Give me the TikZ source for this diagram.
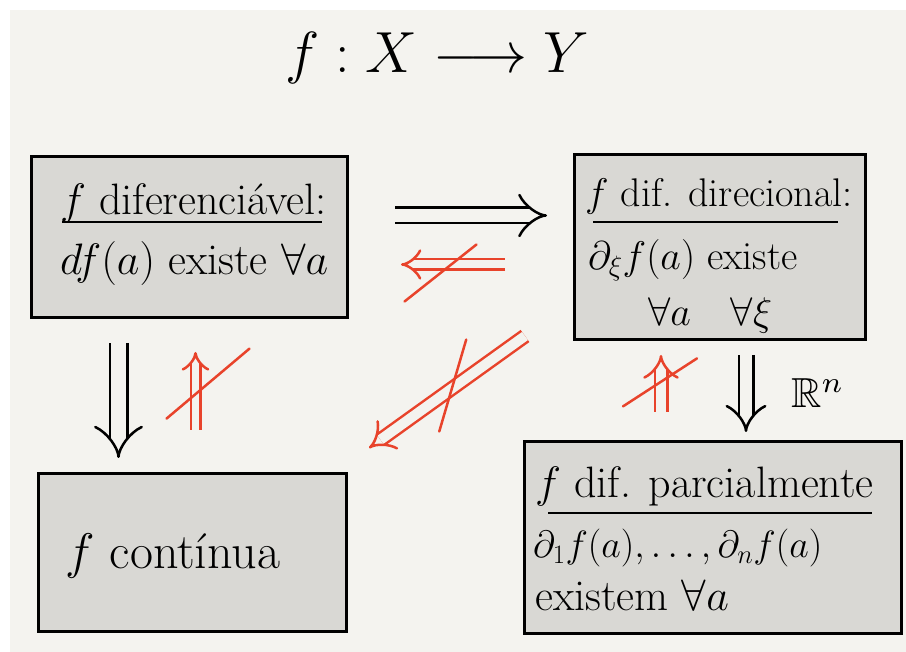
\RequirePackage{fix-cm}
\documentclass[tikz,border=0pt]{standalone}
\usepackage{amssymb}
\usepackage{graphicx}
\usetikzlibrary{arrows.meta,calc}
\definecolor{paper}{HTML}{F4F3EF}
\definecolor{boxgray}{HTML}{D9D8D4}
\definecolor{penred}{HTML}{E8432B}
\tikzset{
  box/.style={draw=black, line width=3pt, fill=boxgray, anchor=north west, inner sep=0pt},
  hand/.style={font=\fontsize{44}{50}\selectfont, inner sep=0pt, anchor=base west},
  implies/.style={double=paper, double distance=13pt, line width=2.5pt, -{Implies}},
  notimplies/.style={double=paper, line width=2.5pt, draw=penred, -{Implies[scale=1.7]}},
  slash/.style={draw=penred, line width=2.5pt, line cap=round},
}
\begin{document}
\begin{tikzpicture}[x=1pt, y=-1pt]
  % paper
  \fill[white] (0,0) rectangle (906,652);
  \fill[paper] (10,10) rectangle (906,652);
  \node[hand, font=\fontsize{58}{64}\selectfont, anchor=center] (title) at (437,58) {$f : X \longrightarrow Y$};
  % the four boxes
  \node[box, minimum width=316pt, minimum height=161pt] (difer) at (30,155) {};
  \node[box, minimum width=291pt, minimum height=185pt] (direc) at (573,153) {};
  \node[box, minimum width=308pt, minimum height=158pt] (contin) at (37,472) {};
  \node[box, minimum width=377pt, minimum height=192pt] (parcial) at (523,440) {};
  % box texts
  \node[hand] (difer-h) at (60,215) {$f$ diferenciável:};
  \draw[line width=2pt] (62,222) -- (322,222);
  \node[hand] (difer-t) at (60,275) {$df(a)$ existe $\forall a$};
  \node[hand, font=\fontsize{40}{46}\selectfont] (direc-h) at (585,207) {$f$ dif. direcional:};
  \draw[line width=2pt] (593,222) -- (838,222);
  \node[hand, font=\fontsize{40}{46}\selectfont] (direc-t) at (588,270) {$\partial_\xi f(a)$ existe};
  \node[hand, font=\fontsize{40}{46}\selectfont] (direc-u) at (648,326) {$\forall a\quad \forall \xi$};
  \node[hand, font=\fontsize{50}{56}\selectfont] (contin-t) at (65,568) {$f$ contínua};
  \node[hand] (parcial-h) at (535,498) {$f$ dif. parcialmente};
  \draw[line width=2pt] (548,513) -- (872,513);
  \node[hand, font=\fontsize{38}{44}\selectfont] (parcial-t) at (533,558) {$\partial_1 f(a), \dots, \partial_n f(a)$};
  \node[hand] (parcial-u) at (535,610) {existem $\forall a$};
  % implications
  \draw[implies] ($(difer.east)+(46,-21.5)$) -- ($(direc.west)+(-26,-31.5)$);
  \draw[implies, double distance=15pt] ($(difer.south)+(-71,24)$) -- ($(contin.north)+(-74,-14)$);
  \draw[implies, double distance=12pt] ($(direc.south)+(26,14)$) -- ($(parcial.north)+(33,-8)$)
    node[midway, inner sep=0pt, anchor=west, xshift=44pt] (rn) {\scalebox{4.2}{$\mathbb{R}^n$}};
  % the ones that fail
  \draw[notimplies, double distance=8pt] ($(direc.west)+(-68,17.5)$) -- ($(difer.east)+(52,27.5)$) coordinate[midway] (cut1);
  \draw[slash] ($(cut1)+(-48.5,37)$) -- ($(cut1)+(23.5,-20)$);
  \draw[notimplies, double distance=7pt] ($(contin.north)+(3,-42)$) -- ($(difer.south)+(6,33)$) coordinate[pos=0.46] (cut2);
  \draw[slash] ($(cut2)+(-29,24.5)$) -- ($(cut2)+(54,-45.5)$);
  \draw[notimplies, double distance=10pt] ($(direc.south west)+(-48,-5)$) -- ($(contin.north east)+(21,-24)$) coordinate[pos=0.46] (cut3);
  \draw[slash] ($(cut3)+(13,-48)$) -- ($(cut3)+(-14,44)$);
  \draw[notimplies, double distance=10pt] ($(parcial.north)+(-52,-28)$) -- ($(direc.south)+(-59,14)$) coordinate[pos=0.53] (cut4);
  \draw[slash] ($(cut4)+(-38,24.6)$) -- ($(cut4)+(36,-23.4)$);
\end{tikzpicture}
\end{document}
